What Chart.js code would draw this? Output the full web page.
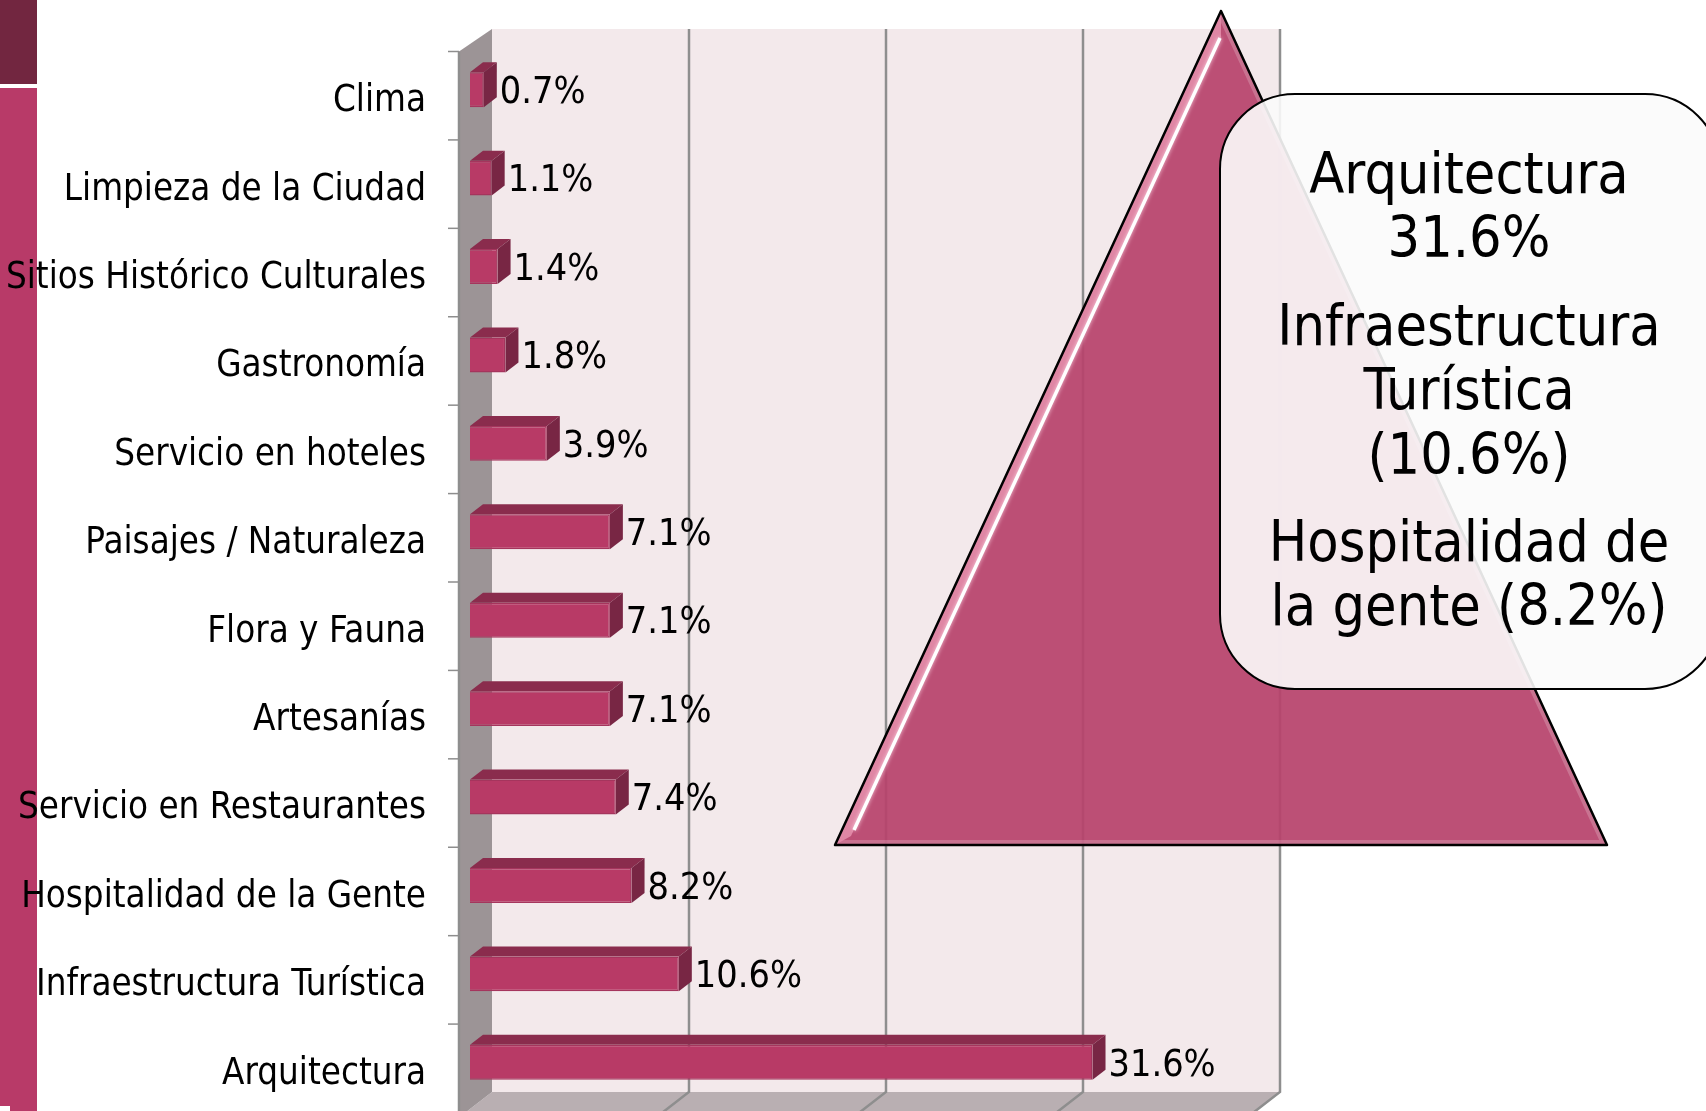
<!DOCTYPE html>
<html><head><meta charset="utf-8">
<style>html,body{margin:0;padding:0;background:#fff;overflow:hidden}canvas{display:block}</style>
<script src="https://cdn.jsdelivr.net/npm/chart.js@4"></script>
</head><body><canvas id="c" width="1706" height="1111"></canvas>
<script>
const categories = ["Clima","Limpieza de la Ciudad","Sitios Histórico Culturales","Gastronomía","Servicio en hoteles","Paisajes / Naturaleza","Flora y Fauna","Artesanías","Servicio en Restaurantes","Hospitalidad de la Gente","Infraestructura Turística","Arquitectura"];
const values = [0.7,1.1,1.4,1.8,3.9,7.1,7.1,7.1,7.4,8.2,10.6,31.6];
const calloutLines = ["Arquitectura","31.6%","Infraestructura","Turística","(10.6%)","Hospitalidad de","la gente (8.2%)"];
const calloutCenters = [178,242,330,394,459,546,610];
const FONT = '"DejaVu Sans Condensed","DejaVu Sans",sans-serif';
const poly=(c,p,fill)=>{c.beginPath();p.forEach((q,i)=>i?c.lineTo(q[0],q[1]):c.moveTo(q[0],q[1]));c.closePath();if(fill){c.fillStyle=fill;c.fill();}};
const scene={id:'scene',
 beforeDraw(ch){
  const c=ch.ctx,xs=ch.scales.x,ys=ch.scales.y;
  c.save();
  c.fillStyle='#fff';c.fillRect(0,0,1706,1111);
  c.fillStyle='#b83a68';c.fillRect(0,88,37,1023);
  c.fillStyle='#722640';c.fillRect(0,0,37,84);
  c.fillStyle='#fff';c.fillRect(0,1106,10,5);
  const bx=22,fx=-11,top=29,ftop=ys.top+6,bot=1092,fbot=ys.bottom+6;
  const L=xs.getPixelForValue(0),R=xs.getPixelForValue(40);
  poly(c,[[L+bx,top],[R+bx,top],[R+bx,bot],[L+bx,bot]],'#f3e9eb');
  poly(c,[[L+bx,bot],[R+bx,bot],[R+fx,fbot+5],[L+fx,fbot+5]],'#b9afb2');
  poly(c,[[L+fx,ftop],[L+bx,top],[L+bx,bot],[L+fx,fbot+5]],'#9c9496');
  c.strokeStyle='#8e8e8e';c.lineWidth=2.5;
  [10,20,30,40].forEach(v=>{const x=xs.getPixelForValue(v);
    c.beginPath();c.moveTo(x+bx,top);c.lineTo(x+bx,bot);c.lineTo(x+fx,fbot+5);c.stroke();});
  c.beginPath();c.moveTo(L+fx,fbot+5);c.lineTo(L+fx,ftop);c.stroke();
  c.lineWidth=1.5;
  for(let i=0;i<=categories.length;i++){
    const y=ftop+(fbot-ftop)*i/categories.length;
    c.beginPath();c.moveTo(L+fx-11,y);c.lineTo(L+fx,y);c.stroke();
  }
  c.restore();
 },
 beforeDatasetsDraw(ch){
  const c=ch.ctx;
  ch.getDatasetMeta(0).data.forEach(b=>{
    const x0=b.base,x1=b.x,t=b.y-b.height/2,u=b.y+b.height/2,dx=13,dy=10;
    poly(c,[[x0,t],[x0+dx,t-dy],[x1+dx,t-dy],[x1,t]],'#8a2c4d');
    poly(c,[[x1,t],[x1+dx,t-dy],[x1+dx,u-dy],[x1,u]],'#782644');
  });
 },
 afterDatasetsDraw(ch){
  const c=ch.ctx;
  c.save();
  c.fillStyle='#000';c.textAlign='left';c.textBaseline='middle';
  c.font='37.5px '+FONT;
  ch.getDatasetMeta(0).data.forEach((b,i)=>{
    c.fillText(values[i].toFixed(1)+'%',b.x+16,b.y+3.5);
  });
  // triangle
  const A=[1221,11],B=[835,845],C=[1607,845];
  c.save();
  poly(c,[A,B,C],'rgba(183,67,108,0.93)');
  c.clip();
  c.strokeStyle='rgba(255,255,255,0.2)';c.lineWidth=10;
  c.beginPath();c.moveTo(A[0],A[1]);c.lineTo(C[0],C[1]);c.lineTo(B[0],B[1]);c.stroke();
  poly(c,[A,B,[851,836],[1221,38]],'rgba(226,140,170,0.9)');
  c.strokeStyle='#fff';c.lineWidth=3.5;c.shadowColor='rgba(255,215,230,0.9)';c.shadowBlur=4;
  c.beginPath();c.moveTo(1220,38);c.lineTo(854,830);c.stroke();
  c.restore();
  poly(c,[A,B,C]);c.strokeStyle='#000';c.lineWidth=2.5;c.lineJoin='round';c.stroke();
  // callout
  c.beginPath();c.roundRect(1220,94,500,595,75);
  c.fillStyle='rgba(251,251,251,0.9)';c.fill();
  c.strokeStyle='#000';c.lineWidth=2;c.stroke();
  c.fillStyle='#000';c.textAlign='center';c.font='57px '+FONT;
  calloutLines.forEach((s,i)=>c.fillText(s,1469,calloutCenters[i]));
  c.restore();
 }
};
new Chart(document.getElementById('c'),{
 type:'bar',
 data:{labels:categories,datasets:[{data:values,backgroundColor:'#b83a66',borderColor:'#a5355d',borderWidth:1.5,barPercentage:0.395,categoryPercentage:1}]},
 plugins:[scene],
 options:{indexAxis:'y',responsive:false,animation:false,
  layout:{padding:{left:0,top:45.5,right:448,bottom:4.5}},
  plugins:{legend:{display:false},tooltip:{enabled:false}},
  scales:{
   x:{display:false,min:0,max:40,ticks:{stepSize:10}},
   y:{grid:{display:false},border:{display:false},
      afterFit(s){s.width=470;s.paddingTop=0;s.paddingBottom=0;},
      ticks:{color:'#000',padding:36,autoSkip:false,labelOffset:12,font:{family:FONT,size:36.4}}}
  }}
});
</script></body></html>
